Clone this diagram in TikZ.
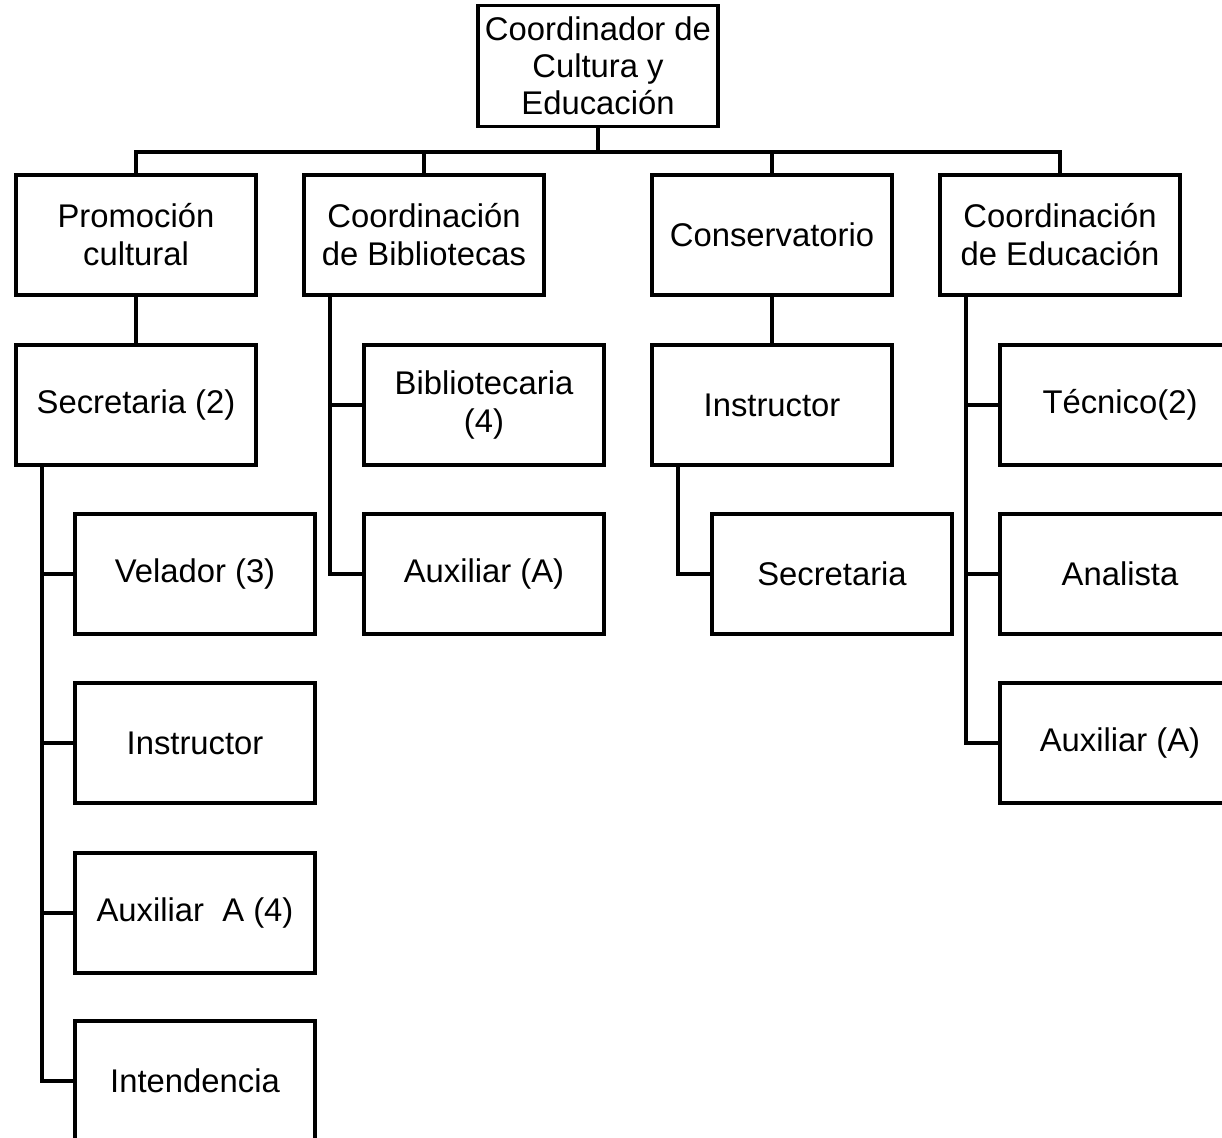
\documentclass[tikz,border=0pt]{standalone}
\usepackage{fontspec}
\setmainfont{Liberation Sans}
\begin{document}
\begin{tikzpicture}
  [x=0.5pt,y=-0.5pt,
  puesto/.style={rectangle,draw=black,fill=white,line width=1.7pt,align=center,
                  minimum width=120pt,minimum height=60pt,inner sep=0pt,
                  outer sep=0,font=\fontsize{16.4}{19}\selectfont},
  jefe/.style={puesto,minimum height=60.5pt,
                  font=\fontsize{16.4}{18.5}\selectfont},
  linea/.style={line width=1.8pt,black}
                  ]
  \useasboundingbox (0,0) rectangle (1222,1138);
  \fill[white] (0,0) rectangle (1222,1138);
  \clip (0,0) rectangle (1222,1138);

  \node[jefe] (coord) at (598,66) {Coordinador de\\Cultura y\\Educación};
  \node[puesto] (promo) at (136,235) {Promoción\\cultural};
  \node[puesto] (biblio) at (424,235) {Coordinación\\de Bibliotecas};
  \node[puesto] (conserv) at (772,235) {Conservatorio};
  \node[puesto] (educ) at (1060,235) {Coordinación\\de Educación};
  \node[puesto] (secre) at (136,405) {Secretaria (2)};
  \node[puesto] (velador) at (195,574) {Velador (3)};
  \node[puesto] (instpromo) at (195,743) {Instructor};
  \node[puesto] (auxpromo) at (195,913) {Auxiliar~~A (4)};
  \node[puesto] (intend) at (195,1081) {Intendencia};
  \node[puesto] (bibliotec) at (484,405) {Bibliotecaria\\(4)};
  \node[puesto] (auxbib) at (484,574) {Auxiliar (A)};
  \node[puesto] (instcons) at (772,405) {Instructor};
  \node[puesto] (secrecons) at (832,574) {Secretaria};
  \node[puesto] (tecnico) at (1120,405) {Técnico(2)};
  \node[puesto] (analista) at (1120,574) {Analista};
  \node[puesto] (auxeduc) at (1120,743) {Auxiliar (A)};

  \coordinate (m0) at (598,152);
  \coordinate (m1) at (136,152);
  \coordinate (m2) at (424,152);
  \coordinate (m3) at (772,152);
  \coordinate (m4) at (1060,152);
  \coordinate (p1) at (42,574);
  \coordinate (p2) at (42,743);
  \coordinate (p3) at (42,913);
  \coordinate (p4) at (42,1081);
  \coordinate (b1) at (330,405);
  \coordinate (b2) at (330,574);
  \coordinate (c1) at (678,574);
  \coordinate (e1) at (966,405);
  \coordinate (e2) at (966,574);
  \coordinate (e3) at (966,743);

  \draw[linea] (coord) to (m0);
  \draw[linea] (promo) to (m1) to (m4) to (educ);
  \draw[linea] (m2) to (biblio);
  \draw[linea] (m3) to (conserv);
  \draw[linea] (promo) to (secre);
  \draw[linea] (secre.south -| p4) to (p4) to (intend);
  \draw[linea] (p1) to (velador);
  \draw[linea] (p2) to (instpromo);
  \draw[linea] (p3) to (auxpromo);
  \draw[linea] (biblio.south -| b2) to (b2) to (auxbib);
  \draw[linea] (b1) to (bibliotec);
  \draw[linea] (conserv) to (instcons);
  \draw[linea] (instcons.south -| c1) to (c1) to (secrecons);
  \draw[linea] (educ.south -| e3) to (e3) to (auxeduc);
  \draw[linea] (e1) to (tecnico);
  \draw[linea] (e2) to (analista);
\end{tikzpicture}
\end{document}
